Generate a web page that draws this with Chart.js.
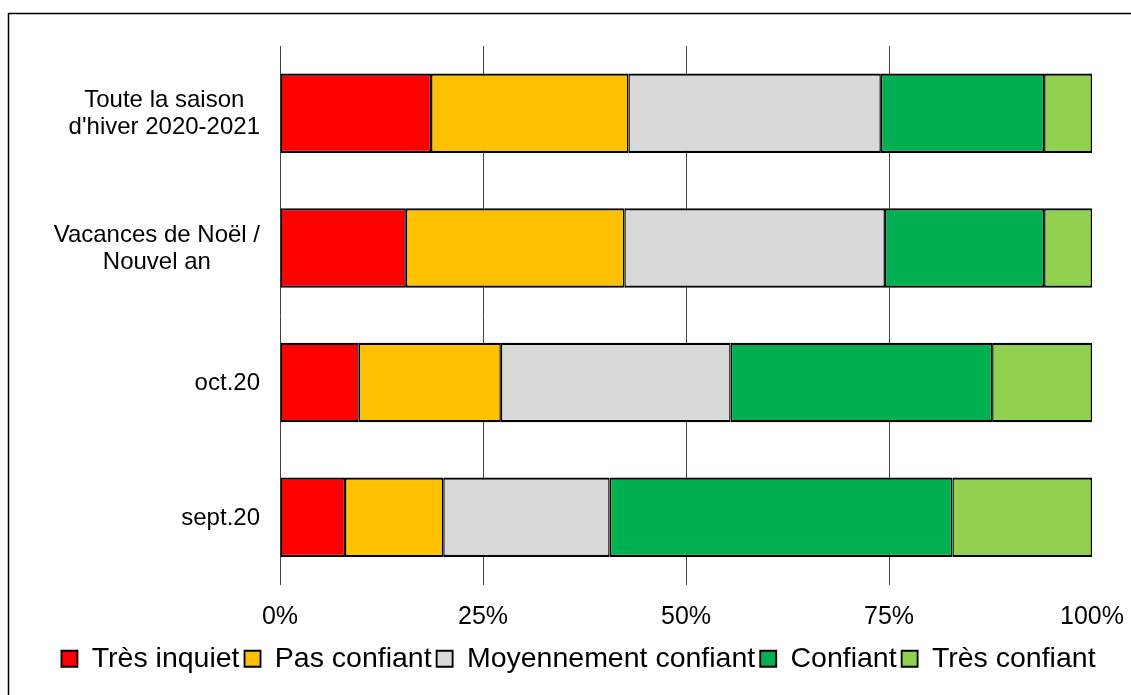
<!DOCTYPE html>
<html>
<head>
<meta charset="utf-8">
<script src="https://cdn.jsdelivr.net/npm/chart.js@4/dist/chart.umd.min.js"></script>
<style>
  html, body { margin: 0; padding: 0; background: #fff; }
  #wrap { position: relative; width: 1131px; height: 695px; }
</style>
</head>
<body>
<div id="wrap"><canvas id="c" width="1131" height="695"></canvas></div>
<script>
// ---- Data ----
const categories = [
  ["Toute la saison", "d'hiver 2020-2021"],
  ["Vacances de Noël /", "Nouvel an"],
  ["oct.20"],
  ["sept.20"]
];
const seriesNames = ["Très inquiet", "Pas confiant", "Moyennement confiant", "Confiant", "Très confiant"];
const tresInquiet  = [18.6, 15.5, 9.7, 8.0];
const pasConfiant  = [24.3, 26.9, 17.5, 12.1];
const moyennement  = [31.1, 32.1, 28.3, 20.5];
const confiant     = [20.1, 19.6, 32.2, 42.2];
const tresConfiant = [5.9, 5.9, 12.3, 17.2];
const xTicks = [0, 25, 50, 75, 100];

const colors = ["#FF0000", "#FFC000", "#D9D9D9", "#00B050", "#92D050"];
const seriesValues = [tresInquiet, pasConfiant, moyennement, confiant, tresConfiant];

const FONT = '"Liberation Sans", Arial, sans-serif';

const frame = {
  id: 'frame',
  beforeDraw(chart) {
    const ctx = chart.ctx;
    ctx.save();
    ctx.strokeStyle = '#000';
    ctx.lineWidth = 1.5;
    ctx.beginPath();
    ctx.moveTo(8.5, 695);
    ctx.lineTo(8.5, 13.5);
    ctx.lineTo(1131, 13.5);
    ctx.stroke();
    ctx.restore();
  }
};

const yLabels = {
  id: 'yLabels',
  afterDraw(chart) {
    const ctx = chart.ctx;
    const ys = chart.scales.y;
    ctx.save();
    ctx.font = '24px ' + FONT;
    ctx.fillStyle = '#000';
    ctx.textAlign = 'center';
    ctx.textBaseline = 'middle';
    const rightEdge = ys.right - 20;
    const lh = 27;
    categories.forEach((lines, i) => {
      const cy = ys.getPixelForTick(i);
      const maxW = Math.max(...lines.map(l => ctx.measureText(l).width));
      const cx = rightEdge - maxW / 2;
      const start = cy - (lines.length - 1) * lh / 2;
      lines.forEach((l, j) => ctx.fillText(l, cx, start + j * lh + 1));
    });
    ctx.restore();
  }
};

new Chart(document.getElementById('c'), {
  type: 'bar',
  data: {
    labels: categories.map(c => c.join(' ')),
    datasets: seriesNames.map((name, i) => ({
      label: name,
      data: seriesValues[i],
      backgroundColor: colors[i],
      borderColor: '#000',
      borderWidth: { top: 2.2, bottom: 2.2, left: 1.5, right: 1.5 },
      borderSkipped: false,
      barPercentage: 0.59,
      categoryPercentage: 1.0,
      yAxisID: 'y'
    }))
  },
  options: {
    indexAxis: 'y',
    responsive: false,
    animation: false,
    layout: { padding: { top: 46, left: 26, right: 0, bottom: 12 } },
    scales: {
      x: {
        stacked: true,
        min: 0, max: 100,
        afterBuildTicks(s) { s.ticks = xTicks.map(v => ({ value: v })); },
        afterFit(s) { s.height = 55; s.paddingRight = 0; s.paddingLeft = 0; },
        border: { display: false },
        grid: {
          drawTicks: false,
          lineWidth: 1,
          color: ctx => (ctx.tick && ctx.tick.value === 100) ? 'rgba(0,0,0,0)' : '#404040'
        },
        ticks: {
          padding: 18,
          color: '#000',
          font: { family: FONT, size: 25 },
          callback: v => v + '%'
        }
      },
      y: {
        stacked: true,
        afterFit(s) { s.width = 254; },
        border: { display: false },
        grid: { display: false },
        ticks: { display: false }
      },
      yR: {
        type: 'category',
        position: 'right',
        afterFit(s) { s.width = 39; },
        border: { display: false },
        grid: { display: false },
        ticks: { display: false }
      }
    },
    plugins: {
      legend: {
        position: 'bottom',
        labels: {
          color: '#000',
          font: { family: FONT, size: 28.5 },
          boxWidth: 16,
          boxHeight: 16,
          padding: 5
        }
      },
      tooltip: { enabled: false }
    }
  },
  plugins: [frame, yLabels]
});
</script>
</body>
</html>
